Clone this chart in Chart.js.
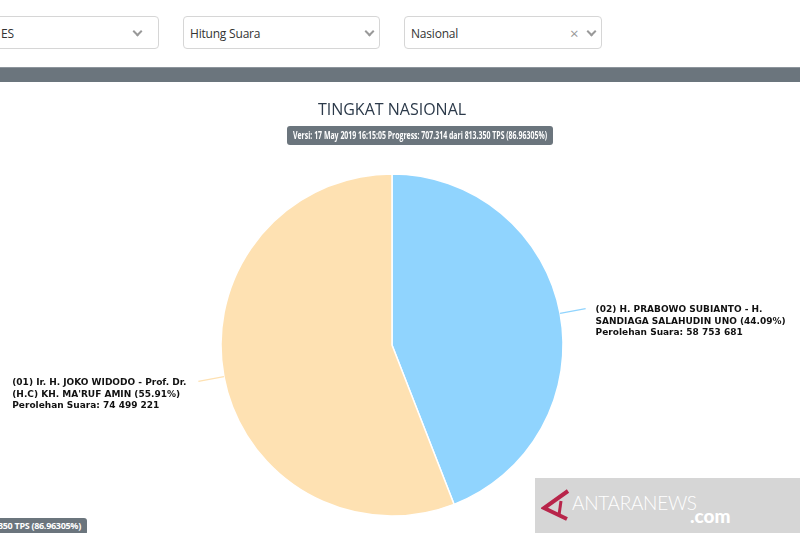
<!DOCTYPE html>
<html>
<head>
<meta charset="utf-8">
<script src="https://cdn.jsdelivr.net/npm/chart.js@4.4.1/dist/chart.umd.min.js"></script>
<style>
  html,body{margin:0;padding:0;background:#fff;width:800px;height:533px;overflow:hidden;position:relative;font-family:'Open Sans',sans-serif;}
  .sel{position:absolute;top:16px;height:33px;border:1px solid #d6d6d6;border-radius:4px;background:#fff;box-sizing:border-box;}
  .sel span.t{position:absolute;left:6px;top:8px;font-size:12px;color:#333;letter-spacing:-0.2px;}
  .chev{position:absolute;top:11px;width:5px;height:5px;border-right:2px solid #999;border-bottom:2px solid #999;transform:rotate(45deg);}
  .xx{position:absolute;top:6px;font-size:15px;color:#999;}
  .bar{position:absolute;left:0;top:67px;width:800px;height:15px;background:#6b757d;border-top:1px solid #8d959c;box-sizing:border-box;}
  #wrap{position:absolute;left:0;top:83px;width:800px;height:450px;}
  .badge2{position:absolute;top:518px;left:-232px;height:17px;background:#6b757d;color:#fff;border-radius:3px;font-weight:bold;font-size:9px;line-height:16px;padding:0 6px;white-space:nowrap;letter-spacing:-0.3px;}
  .wm{position:absolute;left:535px;top:478px;width:265px;height:55px;background:#d6d6d6;}
  .wm .an{position:absolute;left:37px;top:13px;color:#fff;font-family:'Lato',sans-serif;font-weight:300;font-size:19px;letter-spacing:-0.3px;}
  .wm .com{position:absolute;left:155px;top:26px;color:#fff;font-family:'Lato',sans-serif;font-weight:900;font-size:19px;}
</style>
</head>
<body>
<div class="sel" style="left:-20px;width:179px;"><span class="t" style="left:20px;">ES</span><div class="chev" style="left:153px;"></div></div>
<div class="sel" style="left:183px;width:197px;"><span class="t">Hitung Suara</span><div class="chev" style="left:182px;"></div></div>
<div class="sel" style="left:404px;width:198px;"><span class="t">Nasional</span><span class="xx" style="left:165px;">×</span><div class="chev" style="left:183px;"></div></div>
<div class="bar"></div>
<div id="wrap"><canvas id="c" width="800" height="450"></canvas></div>
<div class="badge2">Versi: 17 May 2019 16:15:05 Progress: 707.314 dari 813.350 TPS (86.96305%)</div>
<div class="wm">
  <svg style="position:absolute;left:6px;top:11px" width="30" height="32" viewBox="0 0 30 32">
    <path d="M27 2 L3 19 L26 30" fill="none" stroke="#b8254a" stroke-width="4" stroke-linejoin="miter"/>
    <path d="M20 12 L18 26" fill="none" stroke="#b8254a" stroke-width="3"/>
  </svg>
  <div class="an">ANTARANEWS</div>
  <div class="com">.com</div>
</div>
<script>
// ---- data ----
const candidateNames = [
  ["(02) H. PRABOWO SUBIANTO - H.", "SANDIAGA SALAHUDIN UNO"],
  ["(01) Ir. H. JOKO WIDODO - Prof. Dr.", "(H.C) KH. MA'RUF AMIN"]
];
const votes = [58753681, 74499221];
const sliceColors = ['#90d4fe', '#fee1b2'];
const chartTitle = 'TINGKAT NASIONAL';
const versionText = 'Versi: 17 May 2019 16:15:05 Progress: 707.314 dari 813.350 TPS (86.96305%)';

const total = votes.reduce((a, b) => a + b, 0);
const fmt = n => String(n).replace(/\B(?=(\d{3})+(?!\d))/g, ' ');

const labelPlugin = {
  id: 'labels',
  afterDraw(chart) {
    const ctx = chart.ctx;
    ctx.save();
    // title
    ctx.fillStyle = '#2c3a4a';
    ctx.font = '500 16px "Open Sans"';
    ctx.textAlign = 'center';
    ctx.textBaseline = 'middle';
    ctx.fillText(chartTitle, 392, 27);
    // version badge
    ctx.font = 'bold 10px "Open Sans"';
    const w = ctx.measureText(versionText).width;
    const target = 254;
    ctx.save();
    ctx.fillStyle = '#6b757d';
    ctx.beginPath();
    ctx.roundRect(287, 43, 266, 19, 3);
    ctx.fill();
    ctx.fillStyle = '#fff';
    ctx.translate(420, 53);
    ctx.scale(target / w, 1);
    ctx.textAlign = 'center';
    ctx.fillText(versionText, 0, 0);
    ctx.restore();

    // slice labels
    const meta = chart.getDatasetMeta(0);
    meta.data.forEach((arc, i) => {
      const mid = (arc.startAngle + arc.endAngle) / 2;
      const cx = Math.cos(mid), sy = Math.sin(mid);
      const r = arc.outerRadius;
      const x1 = arc.x + cx * r, y1 = arc.y + sy * r;
      const x2 = arc.x + cx * (r + 26), y2 = arc.y + sy * (r + 26);
      ctx.strokeStyle = sliceColors[i];
      ctx.lineWidth = 1.2;
      ctx.beginPath();
      ctx.moveTo(x1, y1);
      ctx.lineTo(x2, y2);
      ctx.stroke();
      const pct = (votes[i] / total * 100).toFixed(2);
      const lines = [candidateNames[i][0], candidateNames[i][1] + ' (' + pct + '%)', 'Perolehan Suara: ' + fmt(votes[i])];
      ctx.font = 'bold 9px "DejaVu Sans"';
      ctx.fillStyle = '#111';
      ctx.textAlign = 'left';
      ctx.textBaseline = 'middle';
      const maxW = Math.max(...lines.map(l => ctx.measureText(l).width));
      const tx = cx > 0 ? x2 + 10 : x2 - 12 - maxW;
      lines.forEach((l, k) => ctx.fillText(l, tx, y2 + 1.5 + k * 11.5));
    });
    ctx.restore();
  }
};

new Chart(document.getElementById('c'), {
  type: 'pie',
  data: {
    labels: candidateNames.map(n => n.join(' ')),
    datasets: [{
      data: votes,
      backgroundColor: sliceColors,
      borderColor: '#ffffff',
      borderWidth: 1.5
    }]
  },
  options: {
    responsive: false,
    animation: false,
    radius: 171,
    layout: { padding: { left: 100, right: 116, top: 80, bottom: 6 } },
    plugins: { legend: { display: false }, tooltip: { enabled: false } }
  },
  plugins: [labelPlugin]
});
</script>
</body>
</html>
